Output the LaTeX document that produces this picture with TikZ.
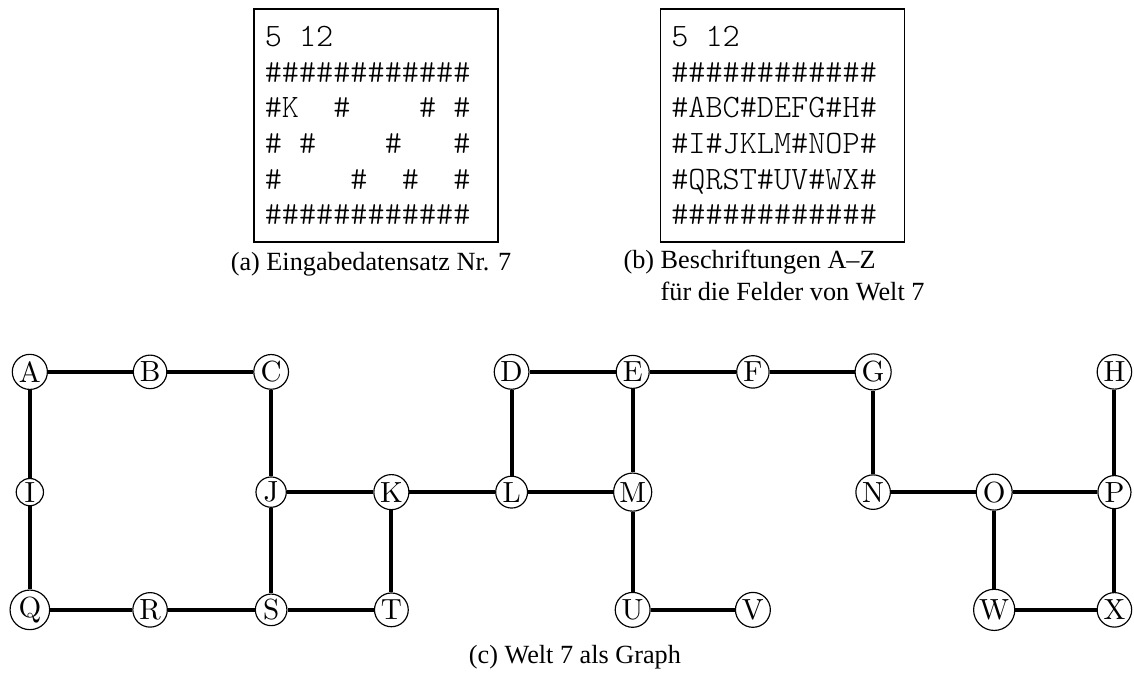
\documentclass[tikz,border=0pt]{standalone}
\usepackage{fontspec}
\newfontfamily\capfont{Liberation Serif}

\begin{document}
\begin{tikzpicture}[
  x=1cm, y=1cm,
  feld/.style={draw, circle, line width=0.4pt, inner sep=0.6pt,
               font=\fontsize{10}{12}\selectfont},
  kante/.style={line width=1.4pt},
  eingabe/.style={draw, line width=0.5pt, text width=2.683cm,
                  minimum height=2.810cm, align=left,
                  inner xsep=0.13cm, inner ysep=0pt,
                  font=\ttfamily\fontseries{l}\fontsize{11.2}{12.2}\selectfont,
                  execute at begin node={\spaceskip=0pt\relax}},
  untertitel/.style={font=\capfont\fontsize{9}{11}\selectfont, inner sep=0pt},
]
\useasboundingbox (0,0) rectangle (13.676,8.165);

% ---------------- (a) input data set ----------------
\node[eingabe] (inA) at (4.535, 6.651)
  {5~12\\
   \#\#\#\#\#\#\#\#\#\#\#\#\\
   \#K~~\#~~~~\#~\#\\
   \#~\#~~~~\#~~~\#\\
   \#~~~~\#~~\#~~\#\\
   \#\#\#\#\#\#\#\#\#\#\#\#};
\node[untertitel, anchor=base] (capA) at (4.474, 4.908) {(a) Eingabedatensatz Nr. 7};

% ---------------- (b) labels of the cells ----------------
\node[eingabe] (inB) at (9.437, 6.651)
  {5~12\\
   \#\#\#\#\#\#\#\#\#\#\#\#\\
   \#ABC\#DEFG\#H\#\\
   \#I\#JKLM\#NOP\#\\
   \#QRST\#UV\#WX\#\\
   \#\#\#\#\#\#\#\#\#\#\#\#};
% base of a two-line node is the baseline of its last line
\node[untertitel, anchor=base west, align=left] (capB) at (7.513, 4.535)
  {(b) Beschriftungen A–Z\\\hphantom{(b) }für die Felder von Welt 7};

% ---------------- (c) the graph ----------------
% top row
\node[feld] (A) at (0.36, 3.68) {A};
\node[feld] (B) at (1.81, 3.68) {B};
\node[feld] (C) at (3.27, 3.68) {C};
\node[feld] (D) at (6.17, 3.68) {D};
\node[feld] (E) at (7.63, 3.68) {E};
\node[feld] (F) at (9.08, 3.68) {F};
\node[feld] (G) at (10.53, 3.68) {G};
\node[feld] (H) at (13.44, 3.68) {H};
% middle row
\node[feld] (I) at (0.36, 2.23) {I};
\node[feld] (J) at (3.27, 2.23) {J};
\node[feld] (K) at (4.72, 2.23) {K};
\node[feld] (L) at (6.17, 2.23) {L};
\node[feld] (M) at (7.63, 2.23) {M};
\node[feld] (N) at (10.53, 2.23) {N};
\node[feld] (O) at (11.99, 2.23) {O};
\node[feld] (P) at (13.44, 2.23) {P};
% bottom row
\node[feld] (Q) at (0.36, 0.81) {Q};
\node[feld] (R) at (1.81, 0.81) {R};
\node[feld] (S) at (3.27, 0.81) {S};
\node[feld] (T) at (4.72, 0.81) {T};
\node[feld] (U) at (7.63, 0.81) {U};
\node[feld] (V) at (9.08, 0.81) {V};
\node[feld] (W) at (11.99, 0.81) {W};
\node[feld] (X) at (13.44, 0.81) {X};

\draw[kante] (A) -- (B) -- (C) -- (J) -- (S) -- (R) -- (Q) -- (I) -- (A);
\draw[kante] (J) -- (K) -- (L) -- (M) -- (E) -- (D) -- (L);
\draw[kante] (K) -- (T) -- (S);
\draw[kante] (E) -- (F) -- (G) -- (N) -- (O) -- (P) -- (H);
\draw[kante] (M) -- (U) -- (V);
\draw[kante] (O) -- (W) -- (X) -- (P);

\node[untertitel, anchor=base] (capC) at (6.934, 0.169) {(c) Welt 7 als Graph};

\end{tikzpicture}
\end{document}
